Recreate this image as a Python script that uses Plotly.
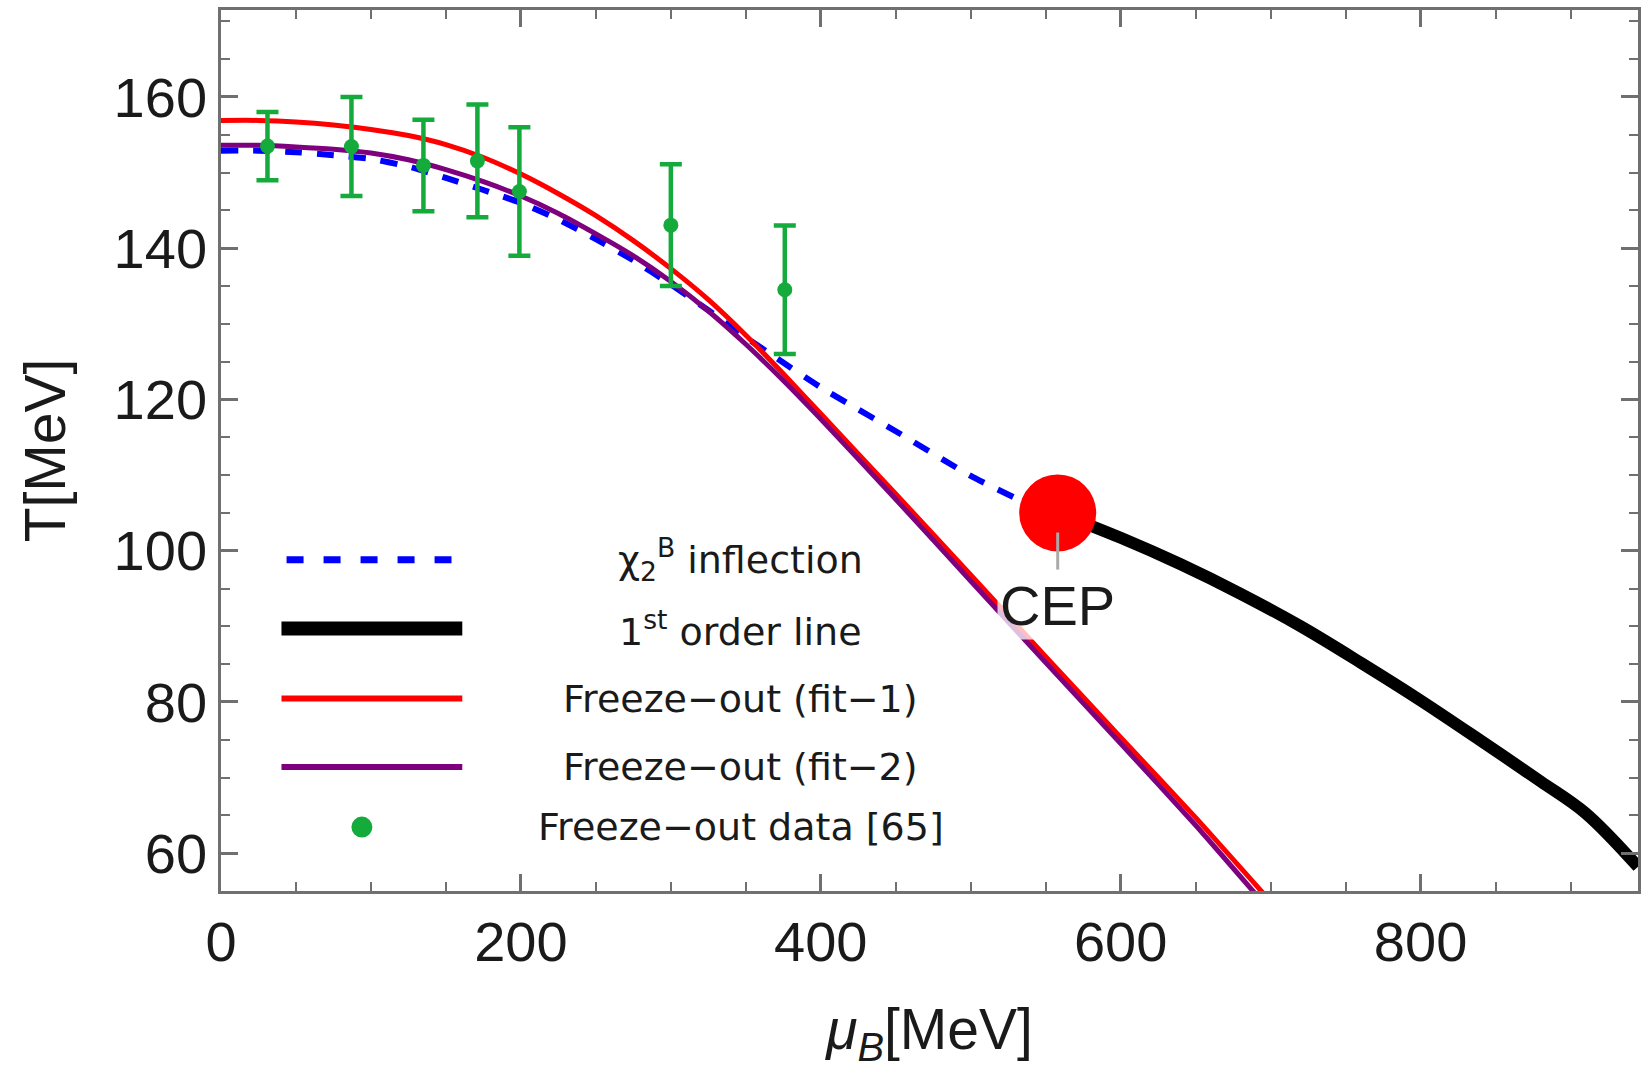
import plotly.graph_objects as go

# ---------------- data ----------------
mu_infl = [0, 25, 50, 75, 100, 125, 150, 175, 200, 225, 250, 275, 300, 325, 350, 371, 400, 450, 500, 534, 558]
T_infl = [152.9, 152.9, 152.7, 152.3, 151.8, 150.8, 149.3, 147.7, 146.0, 143.8, 141.2, 138.4, 135.2, 131.8, 128.2, 125.4,
          121.6, 115.8, 109.9, 106.6, 105.0]

mu_first = [558, 600, 640, 680, 720, 760, 800, 840, 880, 910, 945]
T_first = [105.0, 101.7, 98.2, 94.3, 90.0, 85.2, 80.2, 74.9, 69.5, 65.3, 58.2]

mu_fit1 = [0, 25, 50, 75, 100, 125, 150, 175, 200, 225, 250, 275, 300, 325, 350, 375, 400, 450, 500, 550, 600, 650, 700]
T_fit1 = [156.9, 156.9, 156.7, 156.3, 155.7, 154.9, 153.7, 152.0, 149.8, 147.2, 144.3, 141.0, 137.3, 133.2, 128.5,
          123.4, 118.1, 107.5, 96.8, 86.0, 75.3, 64.7, 53.6]

mu_fit2 = [0, 25, 50, 75, 100, 125, 150, 175, 200, 225, 250, 275, 300, 325, 350, 375, 400, 450, 500, 550, 600, 650, 700]
T_fit2 = [153.6, 153.6, 153.4, 153.1, 152.6, 151.7, 150.4, 148.8, 146.9, 144.6, 141.9, 139.0, 135.6, 131.7, 127.3,
          122.5, 117.4, 106.8, 96.0, 85.2, 74.5, 63.7, 52.3]

mu_data = [31, 87, 135, 171, 199, 300, 376]
T_data = [153.5, 153.45, 150.95, 151.55, 147.5, 143.05, 134.5]
T_err = [4.5, 6.55, 6.05, 7.45, 8.5, 8.05, 8.5]

CEP_MU = [558]
CEP_T = [105]

legend_labels = [
    "χ<sub>2</sub><sup>B</sup> inflection",
    "1<sup>st</sup> order line",
    "Freeze−out (fit−1)",
    "Freeze−out (fit−2)",
    "Freeze−out data [65]",
]

x_ticks = [0, 200, 400, 600, 800]
y_ticks = [60, 80, 100, 120, 140, 160]

# ---------------- styles ----------------
BLUE = "#0000FF"
BLACK = "#000000"
RED = "#FF0000"
PURPLE = "#7F007F"
GREEN = "rgb(20,170,60)"
AXC = "#707070"
TICKFONT = dict(family="Liberation Sans, Arial", size=56, color="#1a1a1a")
LEGFONT = dict(family="DejaVu Sans", size=38, color="#1a1a1a")

fig = go.Figure()

fig.add_trace(go.Scatter(x=mu_infl, y=T_infl, mode="lines",
                         line=dict(color=BLUE, width=6, dash="17px,15px", shape="spline", smoothing=0.5),
                         showlegend=False))
fig.add_trace(go.Scatter(x=mu_first, y=T_first, mode="lines",
                         line=dict(color=BLACK, width=12, shape="spline", smoothing=1.0),
                         showlegend=False))
fig.add_trace(go.Scatter(x=mu_fit1, y=T_fit1, mode="lines",
                         line=dict(color=RED, width=5, shape="spline", smoothing=0.5),
                         showlegend=False))
fig.add_trace(go.Scatter(x=mu_fit2, y=T_fit2, mode="lines",
                         line=dict(color=PURPLE, width=5, shape="spline", smoothing=0.5),
                         showlegend=False))
fig.add_trace(go.Scatter(x=mu_data, y=T_data, mode="markers",
                         marker=dict(color=GREEN, size=15),
                         error_y=dict(type="data", array=T_err, color=GREEN, thickness=4.5, width=11),
                         showlegend=False))
fig.add_trace(go.Scatter(x=CEP_MU, y=CEP_T, mode="markers",
                         marker=dict(color=RED, size=77, line=dict(width=0)),
                         showlegend=False))

# CEP callout
fig.add_shape(type="line", xref="x", yref="y",
              x0=CEP_MU[0], x1=CEP_MU[0], y0=CEP_T[0] - 2.6, y1=CEP_T[0] - 7.5,
              line=dict(color="#aaaaaa", width=3), layer="above")
fig.add_annotation(x=CEP_MU[0], y=CEP_T[0] - 12.2, xref="x", yref="y", text="CEP",
                   showarrow=False, font=dict(family="Liberation Sans, Arial", size=56, color="#1a1a1a"),
                   bgcolor="rgba(255,255,255,0.75)", borderpad=2)

# ---------------- manual legend ----------------
L0, L1 = 281.6, 462.8
PL, PW, PT, PH = 221, 1420, 10, 880.6


def px(xp):
    return (xp - PL) / PW


def py(yp):
    return (PT + PH - yp) / PH


rows_y = [559.5, 628.3, 698.3, 766.7, 826.7]
fig.add_shape(type="line", xref="paper", yref="paper", x0=px(286.7), x1=px(452), y0=py(rows_y[0]), y1=py(rows_y[0]),
              line=dict(color=BLUE, width=7, dash="17px,20px"))
fig.add_shape(type="line", xref="paper", yref="paper", x0=px(L0), x1=px(L1), y0=py(rows_y[1]), y1=py(rows_y[1]),
              line=dict(color=BLACK, width=14))
fig.add_shape(type="line", xref="paper", yref="paper", x0=px(L0), x1=px(L1), y0=py(rows_y[2]), y1=py(rows_y[2]),
              line=dict(color=RED, width=6))
fig.add_shape(type="line", xref="paper", yref="paper", x0=px(L0), x1=px(L1), y0=py(rows_y[3]), y1=py(rows_y[3]),
              line=dict(color=PURPLE, width=6))
fig.add_shape(type="circle", xref="paper", yref="paper", xsizemode="pixel", ysizemode="pixel",
              xanchor=px(362.2), yanchor=py(rows_y[4]), x0=-10.5, x1=10.5, y0=-10.5, y1=10.5,
              fillcolor=GREEN, line=dict(width=0))
for lab, yy in zip(legend_labels, rows_y):
    fig.add_annotation(x=px(742), y=py(yy), xref="paper", yref="paper", text=lab, showarrow=False,
                       xanchor="center", yanchor="middle", font=LEGFONT)

axis_common = dict(showline=True, linecolor=AXC, linewidth=2.5, mirror="ticks",
                   ticks="inside", tickcolor=AXC, tickwidth=2.5, ticklen=17,
                   showgrid=False, zeroline=False, tickfont=TICKFONT)

fig.update_layout(
    width=1643, height=1069,
    margin=dict(l=221, r=2, t=10, b=178),
    paper_bgcolor="white", plot_bgcolor="white",
    xaxis=dict(range=[0, 945], tickvals=x_ticks,
               minor=dict(dtick=50, tick0=0, ticks="inside", ticklen=9, tickwidth=2, tickcolor=AXC),
               title=dict(text="<i>μ</i><sub><i>B</i></sub>[MeV]", standoff=40,
                          font=dict(family="Liberation Sans, Arial", size=57, color="#1a1a1a")),
               **axis_common),
    yaxis=dict(range=[55, 171.5], tickvals=y_ticks,
               minor=dict(dtick=5, tick0=0, ticks="inside", ticklen=9, tickwidth=2, tickcolor=AXC),
               title=dict(text="T[MeV]", standoff=30,
                          font=dict(family="Liberation Sans, Arial", size=57, color="#1a1a1a")),
               **axis_common),
)

fig.write_html("out.html")
